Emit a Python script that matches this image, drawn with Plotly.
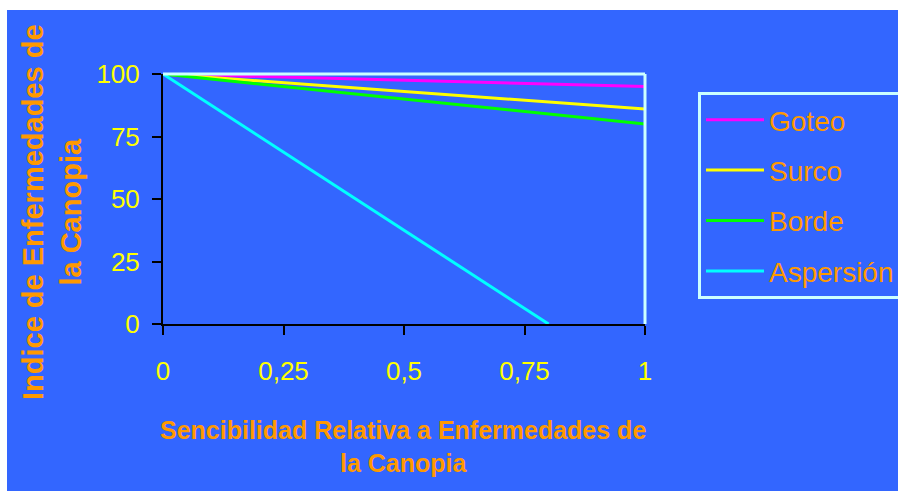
import plotly.graph_objects as go

# Sensitivity to canopy diseases (x) vs canopy disease index (y) per irrigation method
series_names = ["Goteo", "Surco", "Borde", "Aspersión"]
series_x = [[0, 1], [0, 1], [0, 1], [0, 0.8]]
series_y = [[100, 95], [100, 86], [100, 80], [100, 0]]
series_colors = ["#FF00FF", "#FFFF00", "#00FF00", "#00FFFF"]

x_ticks = [0, 0.25, 0.5, 0.75, 1]
x_tick_labels = ["0", "0,25", "0,5", "0,75", "1"]
y_ticks = [0, 25, 50, 75, 100]
y_tick_labels = ["0", "25", "50", "75", "100"]

x_title = "Sencibilidad Relativa a Enfermedades de<br>la Canopia"
y_title = "Indice de Enfermedades de<br>la Canopia"

BLUE = "#3366FF"
ORANGE = "#FF9900"
YELLOW = "#FFFF00"
FRAME = "#CCFFFF"

W, H = 898, 491
L, R, T, B = 163, 253, 74, 167
pw, ph = W - L - R, H - T - B


def px_x(px):
    return (px - L) / pw


def px_y(py):
    return (H - B - py) / ph


fig = go.Figure()
for i, (name, xs, ys, col) in enumerate(zip(series_names, series_x, series_y, series_colors)):
    fig.add_trace(go.Scatter(
        x=xs, y=ys, mode="lines", name=name,
        line=dict(color=col, width=3),
        legendgroup=f"g{i}",
    ))

axis_common = dict(
    showgrid=False, zeroline=False,
    showline=True, linecolor="black", linewidth=2,
    ticks="outside", ticklen=9, tickwidth=2, tickcolor="black",
    tickfont=dict(family="Liberation Sans, Arial, sans-serif", size=26, color=YELLOW),
)

fig.update_xaxes(range=[0, 1], tickvals=x_ticks, ticktext=x_tick_labels,
                 ticklabelstandoff=14, **axis_common)
fig.update_yaxes(range=[0, 100], tickvals=y_ticks, ticktext=y_tick_labels,
                 ticklabelstandoff=7, **axis_common)

shapes = [
    # light frame on the top and right of the plotting area
    dict(type="line", xref="x domain", yref="y domain", x0=0, x1=1, y0=1, y1=1,
         line=dict(color=FRAME, width=3), layer="above"),
    dict(type="line", xref="x domain", yref="y domain", x0=1, x1=1, y0=0, y1=1,
         line=dict(color=FRAME, width=3), layer="above"),
    # white margins along the top and left page edges
    dict(type="rect", xref="paper", yref="paper", x0=px_x(-5), x1=px_x(W + 5),
         y0=px_y(10), y1=px_y(-5), fillcolor="white", line=dict(width=0), layer="below"),
    dict(type="rect", xref="paper", yref="paper", x0=px_x(-5), x1=px_x(7),
         y0=px_y(H + 5), y1=px_y(-5), fillcolor="white", line=dict(width=0), layer="below"),
]

annotations = [
    dict(text=x_title, xref="paper", yref="paper", x=px_x(403), y=px_y(446),
         xanchor="center", yanchor="middle", showarrow=False, align="center",
         font=dict(family="Liberation Sans, Arial, sans-serif",
                   size=25, color=ORANGE, weight="bold")),
    dict(text=y_title, xref="paper", yref="paper", x=px_x(52), y=px_y(212),
         xanchor="center", yanchor="middle", showarrow=False, align="center",
         textangle=-90,
         font=dict(family="Liberation Sans, Arial, sans-serif", size=29,
                   color=ORANGE, weight="bold")),
]

fig.update_layout(
    width=W, height=H,
    margin=dict(l=L, r=R, t=T, b=B, autoexpand=False),
    paper_bgcolor=BLUE, plot_bgcolor=BLUE,
    shapes=shapes, annotations=annotations,
    legend=dict(
        x=px_x(698), y=px_y(92), xanchor="left", yanchor="top",
        bgcolor=BLUE, bordercolor=FRAME, borderwidth=3,
        font=dict(family="Liberation Sans, Arial, sans-serif", size=28, color=ORANGE),
        tracegroupgap=11, itemwidth=58,
    ),
)

fig.write_html("out.html")
